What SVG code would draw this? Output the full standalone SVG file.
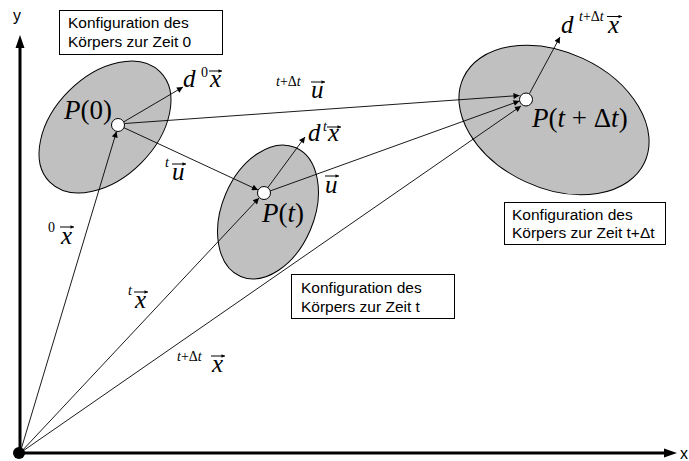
<svg xmlns="http://www.w3.org/2000/svg" width="689" height="461" viewBox="0 0 689 461">
<defs>
<style>
.ell{fill:#c0c0c0;stroke:#000;stroke-width:1}
.pt{fill:#fff;stroke:#000;stroke-width:1}
.vec{stroke:#000;stroke-width:0.9;fill:none;marker-end:url(#ah)}
.varr{stroke:#000;stroke-width:1;fill:none;marker-end:url(#sa)}
.box{fill:#fff;stroke:#000;stroke-width:1}
.lbl{font-family:"Liberation Sans",Arial,sans-serif;font-size:15.5px;fill:#000}
.m{font-family:"Liberation Serif","Times New Roman",serif;font-size:25px;fill:#000}
.P{font-family:"Liberation Serif","Times New Roman",serif;font-size:27px;fill:#000}
.mi{font-style:italic}
.sup{font-family:"Liberation Serif","Times New Roman",serif;font-size:14px;fill:#000}
.ax{font-family:"Liberation Sans",Arial,sans-serif;font-size:16px;fill:#000}
</style>
<marker id="ah" viewBox="0 0 10 10" refX="10" refY="5" markerWidth="8" markerHeight="6" markerUnits="userSpaceOnUse" orient="auto">
<path d="M0,0 L10,5 L0,10 z" fill="#000"/>
</marker>
<marker id="sa" viewBox="0 0 10 10" refX="10" refY="5" markerWidth="4.5" markerHeight="3.5" markerUnits="userSpaceOnUse" orient="auto">
<path d="M0,0 L10,5 L0,10 z" fill="#000"/>
</marker>
</defs>

<g id="body0">
<ellipse class="ell" cx="105" cy="127" rx="78" ry="51" transform="rotate(-45 105 127)"/>
</g>
<g id="bodyt">
<ellipse class="ell" cx="268" cy="212" rx="70" ry="46" transform="rotate(-67 268 212)"/>
</g>
<g id="bodytdt">
<ellipse class="ell" cx="554" cy="120" rx="100" ry="68" transform="rotate(25 554 120)"/>
</g>

<g id="axes">
<line x1="20" y1="453" x2="20" y2="46" stroke="#000" stroke-width="3"/>
<path d="M20,35 L24.5,48 L15.5,48 z" fill="#000"/>
<line x1="20" y1="453" x2="665" y2="453" stroke="#000" stroke-width="3"/>
<path d="M677,453 L664,448.5 L664,457.5 z" fill="#000"/>
<circle cx="19" cy="453" r="6" fill="#000"/>
<text class="ax" x="13" y="21">y</text>
<text class="ax" x="680" y="459">x</text>
</g>

<g id="connectors">
<line class="vec" x1="20" y1="453" x2="116.5" y2="131.5"/>
<line class="vec" x1="20" y1="453" x2="259" y2="198"/>
<line class="vec" x1="20" y1="453" x2="521" y2="106"/>
<line class="vec" x1="123.5" y1="127.5" x2="258" y2="190"/>
<line class="vec" x1="124.5" y1="123.5" x2="519.5" y2="95.5"/>
<line class="vec" x1="270" y1="191" x2="519.5" y2="101"/>
<line class="vec" x1="123.5" y1="122" x2="183" y2="87"/>
<line class="vec" x1="267.5" y1="188" x2="305" y2="137"/>
<line class="vec" x1="529.5" y1="93.5" x2="560" y2="37"/>
</g>

<g id="p0">
<circle class="pt" cx="118" cy="125" r="6.5"/>
<text class="P" x="64" y="119"><tspan class="mi">P</tspan>(0)</text>
</g>
<g id="pt">
<circle class="pt" cx="264" cy="193" r="6.5"/>
<text class="P" x="262" y="222"><tspan class="mi">P</tspan>(<tspan class="mi">t</tspan>)</text>
</g>
<g id="ptdt">
<circle class="pt" cx="526" cy="99.5" r="6.5"/>
<text class="P" x="532" y="127"><tspan class="mi">P</tspan>(<tspan class="mi">t</tspan> + Δ<tspan class="mi">t</tspan>)</text>
</g>

<g id="label-d0x">
<text class="m mi" x="183" y="87">d</text>
<text class="sup" x="201" y="77">0</text>
<text class="m mi" x="210" y="87">x</text>
<path class="varr" d="M209,71 H222"/>
</g>
<g id="label-dtx">
<text class="m mi" x="308" y="141">d</text>
<text class="sup mi" x="323" y="131">t</text>
<text class="m mi" x="328" y="141">x</text>
<path class="varr" d="M327,127 H341"/>
</g>
<g id="label-dtdtx">
<text class="m mi" x="561" y="33">d</text>
<text class="sup" x="579" y="21"><tspan class="mi">t</tspan>+Δ<tspan class="mi">t</tspan></text>
<text class="m mi" x="608" y="33">x</text>
<path class="varr" d="M607,16.5 H622"/>
</g>
<g id="label-0x">
<text class="sup" x="48" y="232">0</text>
<text class="m mi" x="61" y="244">x</text>
<path class="varr" d="M60,227 H74"/>
</g>
<g id="label-tx">
<text class="sup mi" x="128" y="295">t</text>
<text class="m mi" x="135" y="308">x</text>
<path class="varr" d="M134,292 H148"/>
</g>
<g id="label-tdtx">
<text class="sup" x="177" y="361"><tspan class="mi">t</tspan>+Δ<tspan class="mi">t</tspan></text>
<text class="m mi" x="212" y="372">x</text>
<path class="varr" d="M211,356 H225"/>
</g>
<g id="label-tu">
<text class="sup mi" x="165" y="167">t</text>
<text class="m mi" x="172" y="180">u</text>
<path class="varr" d="M172,164 H186"/>
</g>
<g id="label-tdtu">
<text class="sup" x="276" y="86"><tspan class="mi">t</tspan>+Δ<tspan class="mi">t</tspan></text>
<text class="m mi" x="311" y="98">u</text>
<path class="varr" d="M311,82 H325"/>
</g>
<g id="label-u">
<text class="m mi" x="325" y="193">u</text>
<path class="varr" d="M325,176 H339"/>
</g>

<g id="box0">
<rect class="box" x="59.5" y="10.5" width="163" height="44"/>
<text class="lbl" x="68" y="28">Konfiguration des</text>
<text class="lbl" x="68" y="47">Körpers zur Zeit 0</text>
</g>
<g id="boxt">
<rect class="box" x="291.5" y="274.5" width="163" height="44"/>
<text class="lbl" x="301" y="293">Konfiguration des</text>
<text class="lbl" x="301" y="312">Körpers zur Zeit t</text>
</g>
<g id="boxtdt">
<rect class="box" x="504.5" y="202.5" width="161" height="42"/>
<text class="lbl" x="512" y="220">Konfiguration des</text>
<text class="lbl" x="512" y="238">Körpers zur Zeit t+Δt</text>
</g>
</svg>
